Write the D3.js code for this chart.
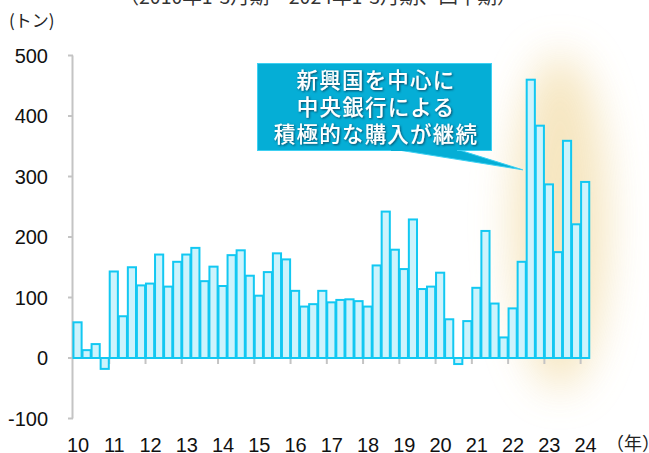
<!DOCTYPE html>
<html>
<head>
<meta charset="utf-8">
<script src="https://cdn.jsdelivr.net/npm/d3@7"></script>
<style>
  html, body { margin: 0; padding: 0; background: #fff; }
  svg { display: block; }
  text { font-family: "Liberation Sans", Arial, sans-serif; }
  .jp { font-family: "Noto Sans CJK JP", sans-serif; }
</style>
</head>
<body>
<svg id="chart" width="649" height="453"></svg>
<script>
/* ── Data: central bank gold net purchases, quarterly (tonnes) ── */
const years    = d3.range(2010, 2025);
const yearTicks = ['10','11','12','13','14','15','16','17','18','19','20','21','22','23','24'];
const quarters = years.flatMap(y => [1, 2, 3, 4].map(q => `${y}Q${q}`)).slice(0, 57);
const values = [
   59,  13,  23, -18,   // 2010
  143,  69, 150, 120,   // 2011
  123, 171, 118, 159,   // 2012
  171, 182, 127, 151,   // 2013
  119, 170, 178, 136,   // 2014
  103, 142, 173, 163,   // 2015
  111,  85,  89, 111,   // 2016
   92,  96,  97,  94,   // 2017
   85, 153, 242, 179,   // 2018
  147, 229, 114, 118,   // 2019
  141,  64, -10,  61,   // 2020
  116, 210,  90,  34,   // 2021
   82, 159, 460, 384,   // 2022
  287, 175, 359, 221,   // 2023
  291                   // 2024
];
const yTicks = [-100, 0, 100, 200, 300, 400, 500];
const calloutLines = ['新興国を中心に', '中央銀行による', '積極的な購入が継続'];

/* ── Layout ─────────────────────────────────────────── */
const svg = d3.select('#chart');
const x0 = 73, x1 = 589.7;
const x = d3.scaleBand().domain(quarters).range([x0, x1]).paddingInner(0.1).paddingOuter(0.05);
const y = d3.scaleLinear().domain([-100, 500]).range([418.5, 55.5]);
const step = (x1 - x0) / quarters.length;
const yearStart = i => x0 + i * 4 * step;

const defs = svg.append('defs');
const blur = defs.append('filter').attr('id', 'glow')
  .attr('x', '-80%').attr('y', '-50%').attr('width', '260%').attr('height', '200%');
blur.append('feGaussianBlur').attr('stdDeviation', 20);

const shadow = defs.append('filter').attr('id', 'tshadow')
  .attr('x', '-10%').attr('y', '-20%').attr('width', '120%').attr('height', '140%');
shadow.append('feDropShadow').attr('dx', 1).attr('dy', 1).attr('stdDeviation', 0.8)
  .attr('flood-color', '#0a3a55').attr('flood-opacity', 0.9);

// Highlight glow behind 2022Q3–2024Q1
svg.append('ellipse')
  .attr('cx', 560).attr('cy', 222).attr('rx', 48).attr('ry', 168)
  .attr('fill', '#f4e2b6').attr('opacity', 0.85)
  .attr('filter', 'url(#glow)');

// Title (cut off at top edge)
svg.append('text').attr('class', 'jp')
  .attr('x', 318).attr('y', 4).attr('text-anchor', 'middle')
  .attr('font-size', 19.5).attr('fill', '#333')
  .text('（2010年1-3月期～2024年1-3月期、四半期）');

// Unit label
svg.append('text').attr('class', 'jp')
  .attr('x', 9).attr('y', 27).attr('font-size', 17).attr('fill', '#222')
  .text('(トン)');

/* ── Axes ───────────────────────────────────────────── */
const axisColor = '#c4c4c4';
svg.append('line')
  .attr('x1', x0 - 0.5).attr('x2', x0 - 0.5).attr('y1', y(500)).attr('y2', y(-100))
  .attr('stroke', axisColor).attr('stroke-width', 2);
svg.selectAll('.ytick').data(yTicks).join('line')
  .attr('x1', x0 - 5).attr('x2', x0).attr('y1', d => y(d)).attr('y2', d => y(d))
  .attr('stroke', axisColor).attr('stroke-width', 2);
svg.selectAll('.ylab').data(yTicks).join('text')
  .attr('x', 48).attr('y', d => y(d)).attr('dy', '0.36em')
  .attr('text-anchor', 'end').attr('font-size', 20).attr('fill', '#111')
  .text(d => d);

svg.append('line')
  .attr('x1', x0).attr('x2', x1).attr('y1', y(0)).attr('y2', y(0))
  .attr('stroke', axisColor).attr('stroke-width', 2);
svg.selectAll('.xtick').data(yearTicks.slice(1)).join('line')
  .attr('x1', (d, i) => yearStart(i + 1)).attr('x2', (d, i) => yearStart(i + 1))
  .attr('y1', y(0)).attr('y2', y(0) + 6)
  .attr('stroke', axisColor).attr('stroke-width', 2);
svg.selectAll('.xlab').data(yearTicks).join('text')
  .attr('x', (d, i) => yearStart(i) + 5).attr('y', 451.5)
  .attr('text-anchor', 'middle').attr('font-size', 20).attr('fill', '#111')
  .text(d => d);
svg.append('text').attr('class', 'jp')
  .attr('x', 606).attr('y', 450).attr('font-size', 18).attr('fill', '#222')
  .text('（年）');

/* ── Bars ───────────────────────────────────────────── */
svg.append('g').selectAll('rect').data(values).join('rect')
  .attr('x', (d, i) => x(quarters[i]))
  .attr('width', x.bandwidth())
  .attr('y', d => y(Math.max(0, d)))
  .attr('height', d => Math.abs(y(d) - y(0)))
  .attr('fill', '#cdf3fc')
  .attr('stroke', '#12c8f2')
  .attr('stroke-width', 2);

/* ── Callout ────────────────────────────────────────── */
const tipI = quarters.indexOf('2022Q2');
const tipX = x(quarters[tipI]) + x.bandwidth() / 2 + 1;
const tipY = y(values[tipI]) - 92;
svg.append('polygon')
  .attr('points', `392,149 456,149 ${tipX},${tipY}`)
  .attr('fill', '#05aed6').attr('stroke', '#3cd0f2').attr('stroke-width', 1);
svg.append('rect')
  .attr('x', 257.5).attr('y', 63.5).attr('width', 234).attr('height', 87)
  .attr('fill', '#05aed6').attr('stroke', '#3cd0f2').attr('stroke-width', 1);
svg.append('rect')
  .attr('x', 391).attr('y', 148).attr('width', 66).attr('height', 3)
  .attr('fill', '#05aed6');
svg.selectAll('.cl').data(calloutLines).join('text').attr('class', 'jp')
  .attr('x', 376).attr('y', (d, i) => 88 + i * 27)
  .attr('text-anchor', 'middle').attr('font-size', 21.5).attr('font-weight', 500)
  .attr('letter-spacing', 1.2)
  .attr('fill', '#fff').attr('filter', 'url(#tshadow)')
  .text(d => d);
</script>
</body>
</html>
